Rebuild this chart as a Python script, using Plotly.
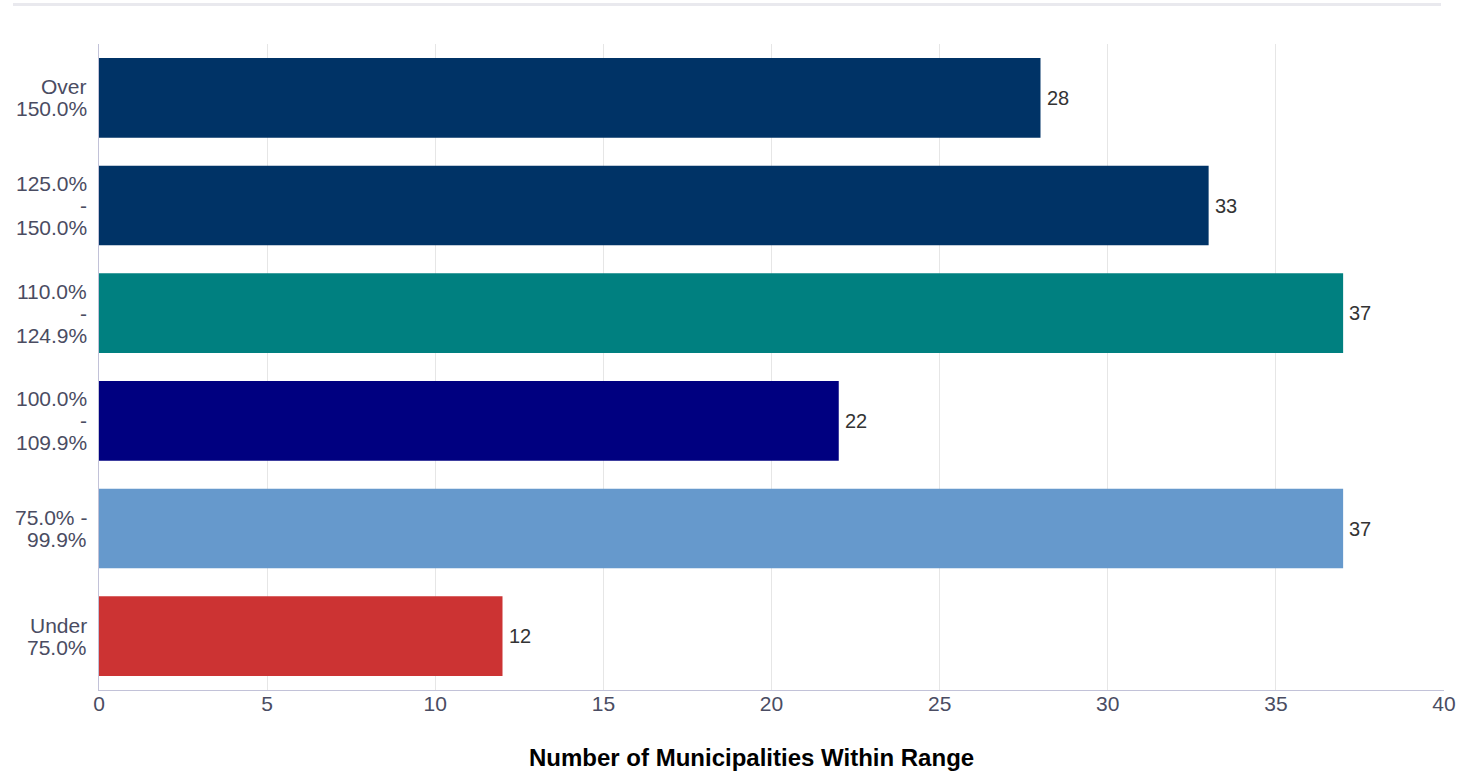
import plotly.graph_objects as go

# Ranges listed bottom-to-top, as they stack on the category axis
categories = [
    "Under 75.0%",
    "75.0% - 99.9%",
    "100.0% - 109.9%",
    "110.0% - 124.9%",
    "125.0% - 150.0%",
    "Over 150.0%",
]
category_lines = [
    ["Under", "75.0%"],
    ["75.0% -", "99.9%"],
    ["100.0%", "-", "109.9%"],
    ["110.0%", "-", "124.9%"],
    ["125.0%", "-", "150.0%"],
    ["Over", "150.0%"],
]
counts = [12, 37, 22, 37, 33, 28]
bar_colors = ["#CC3333", "#6699CC", "#000080", "#008080", "#003366", "#003366"]
x_ticks = [0, 5, 10, 15, 20, 25, 30, 35, 40]
x_title = "Number of Municipalities Within Range"

FONT = "Liberation Sans, Arial, Helvetica, sans-serif"
LABEL_COLOR = "#4a4c62"
LINE_PX = 22

# plot-area geometry in pixels
W, H = 1463, 772
M_L, M_R, M_T, M_B = 99, 19, 44, 82
PLOT_W = W - M_L - M_R
PLOT_H = H - M_T - M_B

fig = go.Figure(
    go.Bar(
        y=categories,
        x=counts,
        orientation="h",
        marker=dict(color=bar_colors, line=dict(width=0)),
        width=0.74,
        hoverinfo="skip",
    )
)

annotations = []
# value labels just past the end of each bar
for cat, val in zip(categories, counts):
    annotations.append(
        dict(
            x=val, y=cat, xref="x", yref="y",
            text=str(val), showarrow=False,
            xanchor="left", yanchor="middle", xshift=4,
            font=dict(family=FONT, size=20, color="#333333"),
        )
    )
# category labels, one line per annotation for tight line spacing
for cat, lines in zip(categories, category_lines):
    n = len(lines)
    for i, line in enumerate(lines):
        annotations.append(
            dict(
                x=0, y=cat, xref="paper", yref="y",
                text=line, showarrow=False,
                xanchor="right", yanchor="middle",
                xshift=-10, yshift=-(i - (n - 1) / 2) * LINE_PX,
                font=dict(family=FONT, size=21, color=LABEL_COLOR),
            )
        )
# x-axis title, centred under the chart
annotations.append(
    dict(
        x=(751.5 - M_L) / PLOT_W, y=-(757 - (H - M_B)) / PLOT_H,
        xref="paper", yref="paper",
        text=f"<b>{x_title}</b>", showarrow=False,
        xanchor="center", yanchor="middle",
        font=dict(family=FONT, size=24, color="#000000"),
    )
)

fig.update_layout(
    width=W,
    height=H,
    margin=dict(l=M_L, r=M_R, t=M_T, b=M_B),
    paper_bgcolor="white",
    plot_bgcolor="white",
    showlegend=False,
    font=dict(family=FONT, size=20, color=LABEL_COLOR),
    xaxis=dict(
        range=[0, 40],
        tickvals=x_ticks,
        showgrid=True,
        gridcolor="#e6e6e6",
        gridwidth=1,
        zeroline=False,
        showline=True,
        linecolor="#c2c2d8",
        linewidth=1,
        ticks="",
        ticklabelstandoff=-5,
        tickfont=dict(family=FONT, size=21, color=LABEL_COLOR),
        automargin=False,
        fixedrange=True,
    ),
    yaxis=dict(
        categoryorder="array",
        categoryarray=categories,
        showgrid=False,
        zeroline=False,
        showline=True,
        linecolor="#c2c2d8",
        linewidth=1,
        ticks="",
        showticklabels=False,
        automargin=False,
        fixedrange=True,
    ),
    annotations=annotations,
    shapes=[
        dict(
            type="line",
            xref="paper",
            yref="paper",
            x0=(13 - M_L) / PLOT_W,
            x1=(1441 - M_L) / PLOT_W,
            y0=1 + (M_T - 4.5) / PLOT_H,
            y1=1 + (M_T - 4.5) / PLOT_H,
            line=dict(color="#e9e9ee", width=3),
        )
    ],
)

fig.write_html("out.html")
